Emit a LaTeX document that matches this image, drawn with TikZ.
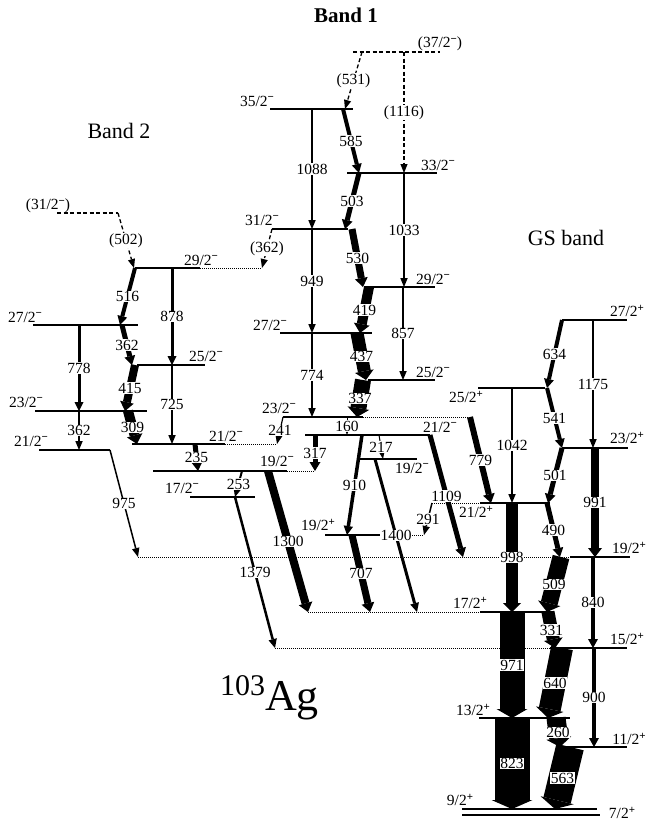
\documentclass[tikz,border=0pt]{standalone}
\usepackage{fontspec}
\setmainfont{Liberation Serif}
\usetikzlibrary{arrows.meta}
\newcommand{\pneg}{\raisebox{0.75ex}{\fontsize{11}{11}\selectfont\bfseries −}}
\newcommand{\ppos}{\raisebox{0.75ex}{\fontsize{11}{11}\selectfont\bfseries +}}
\newcommand{\lblfont}{\fontsize{15.5}{15.5}\selectfont}

\begin{document}
\begin{tikzpicture}[x=1pt, y=-1pt,
    lvl/.style={line width=1.2pt},
    lvlx/.style={densely dotted, line width=1pt},
    lvld/.style={dash pattern=on 4pt off 2.5pt, line width=1.1pt},
    gam/.style={line width=#1, -{Triangle[length=9pt 0 0, width=6pt 1 0, line width=0pt 0 0]}},
    gam/.default=1.5pt,
    gamd/.style={gam=1.3pt, dash pattern=on 4pt off 2.5pt},
    elab/.style={fill=white, inner sep=0.5pt, font=\lblfont},
    spin/.style={inner sep=0pt, font=\lblfont},
    title/.style={font=\fontsize{22}{22}\selectfont},
  ]
  \useasboundingbox (0,0) rectangle (647,823);

  % --- titles ---
  \node[title, font={\fontsize{21}{21}\selectfont\bfseries}] (t1) at (346,15) {Band 1};
  \node[title] (t2) at (119,131) {Band 2};
  \node[title] (tgs) at (566,238) {GS band};
  \node[anchor=base west, inner sep=0pt] (nuc) at (220,710)
    {\raisebox{15pt}{\fontsize{30}{30}\selectfont 103}\fontsize{44}{44}\selectfont Ag};

  % --- Band 1 levels ---
  \draw[lvld] (353,52) coordinate (L37) -- (440,52);
  \draw[lvl] (270,109) coordinate (L35) -- (353,109);
  \draw[lvl] (347,173) coordinate (L33) -- (437,173);
  \draw[lvl] (272,229) coordinate (L31) -- (348,229);
  \draw[lvl] (365,287) coordinate (L29) -- (435,287);
  \draw[lvl] (280,333) coordinate (L27) -- (372,333);
  \draw[lvl] (368,380) coordinate (L25) -- (435,380);
  \draw[lvl] (283,417) coordinate (L23) -- (363,417);
  \draw[lvlx] (363,417) -- (470,417);
  \draw[lvl] (305,435) coordinate (L21) -- (430,435);
  \draw[lvl] (360,459) coordinate (L19) -- (417,459);
  \draw[lvl] (325,535) coordinate (L19p) -- (380,535);
  \draw[lvlx] (380,535) -- (424,535);

  \node[spin] (s37) at (440,44) {(37/2\pneg)};
  \node[spin] (s35) at (257,101) {35/2\pneg};
  \node[spin] (s33) at (438,165) {33/2\pneg};
  \node[spin] (s31) at (262,220) {31/2\pneg};
  \node[spin] (s29) at (433,279) {29/2\pneg};
  \node[spin] (s27) at (270,325) {27/2\pneg};
  \node[spin] (s25) at (433,372) {25/2\pneg};
  \node[spin] (s23) at (279,408) {23/2\pneg};
  \node[spin] (s21) at (440,427) {21/2\pneg};
  \node[spin] (s19) at (412,468) {19/2\pneg};
  \node[spin] (s19p) at (318,525) {19/2\ppos};

  % --- Band 2 levels ---
  \draw[lvld] (57,213) coordinate (M31) -- (118,213);
  \draw[lvl] (135,268) coordinate (M29) -- (200,268);
  \draw[lvlx] (200,268) -- (262,268);
  \draw[lvl] (33,325) coordinate (M27) -- (138,325);
  \draw[lvl] (137,365) coordinate (M25) -- (205,365);
  \draw[lvl] (35,411) coordinate (M23) -- (147,411);
  \draw[lvl] (39,450) coordinate (M21b) -- (110,450);
  \draw[lvl] (132,444) coordinate (M21) -- (225,444);
  \draw[lvlx] (225,444) -- (277,444);
  \draw[lvl] (153,471) coordinate (M19) -- (287,471);
  \draw[lvlx] (287,471) -- (315,471);
  \draw[lvl] (190,497) coordinate (M17) -- (255,497);

  \node[spin] (r31) at (48,206) {(31/2\pneg)};
  \node[spin] (r29) at (201,260) {29/2\pneg};
  \node[spin] (r27) at (25,317) {27/2\pneg};
  \node[spin] (r25) at (206,356) {25/2\pneg};
  \node[spin] (r23) at (26,402) {23/2\pneg};
  \node[spin] (r21b) at (31,441) {21/2\pneg};
  \node[spin] (r21) at (226,436) {21/2\pneg};
  \node[spin] (r19) at (277,461) {19/2\pneg};
  \node[spin] (r17) at (182,488) {17/2\pneg};

  % --- GS band levels ---
  \draw[lvl] (562,320) coordinate (G27) -- (627,320);
  \draw[lvl] (478,388) coordinate (G25) -- (545,388);
  \draw[lvl] (562,448) coordinate (G23) -- (628,448);
  \draw[lvlx] (432,503) -- (480,503);
  \draw[lvl] (480,503) coordinate (G21) -- (550,503);
  \draw[lvlx] (138,557) -- (570,557);
  \draw[lvl] (570,557) coordinate (G19) -- (630,557);
  \draw[lvlx] (308,612) -- (480,612);
  \draw[lvl] (480,612) coordinate (G17) -- (552,612);
  \draw[lvlx] (275,648) -- (550,648);
  \draw[lvl] (550,648) coordinate (G15) -- (627,648);
  \draw[lvl] (479,718) coordinate (G13) -- (570,718);
  \draw[lvl] (565,747) coordinate (G11) -- (627,747);
  \draw[lvl] (462,809) coordinate (G9) -- (597,809);
  \draw[lvl] (462,815) coordinate (G7) -- (600,815);

  \node[spin] (q27) at (627,311) {27/2\ppos};
  \node[spin] (q25) at (466,397) {25/2\ppos};
  \node[spin] (q23) at (627,438) {23/2\ppos};
  \node[spin] (q21) at (476,512) {21/2\ppos};
  \node[spin] (q19) at (629,548) {19/2\ppos};
  \node[spin] (q17) at (470,603) {17/2\ppos};
  \node[spin] (q15) at (627,639) {15/2\ppos};
  \node[spin] (q13) at (473,710) {13/2\ppos};
  \node[spin] (q11) at (629,739) {11/2\ppos};
  \node[spin] (q9) at (460,800) {9/2\ppos};
  \node[spin] (q7) at (622,813) {7/2\ppos};

  % --- Band 1 transitions ---
  \draw[gamd] (362,0 |- L37) -- node[elab] (e531) {(531)} (345,0 |- L35);
  \draw[gamd] (404,0 |- L37) -- node[elab] (e1116) {(1116)} (404,0 |- L33);
  \draw[gam] (312,0 |- L35) -- node[elab] (e1088) {1088} (312,0 |- L31);
  \draw[gam=4pt] (343,0 |- L35) -- node[elab] (e585) {585} (359,0 |- L33);
  \draw[gam=5pt] (359,0 |- L33) -- node[elab] (e503) {503} (345,0 |- L31);
  \draw[gam] (404,0 |- L33) -- node[elab] (e1033) {1033} (404,0 |- L29);
  \draw[gam] (312,0 |- L31) -- node[elab] (e949) {949} (312,0 |- L27);
  \draw[gam=7pt] (352,0 |- L31) -- node[elab] (e530) {530} (363,0 |- L29);
  \draw[gam] (403,0 |- L29) -- node[elab] (e857) {857} (403,0 |- L25);
  \draw[gam=10pt] (369,0 |- L29) -- node[elab] (e419) {419} (360,0 |- L27);
  \draw[gam] (312,0 |- L27) -- node[elab] (e774) {774} (312,0 |- L23);
  \draw[gam=13pt] (357,0 |- L27) -- node[elab] (e437) {437} (366,0 |- L25);
  \draw[gam=16pt] (363,0 |- L25) -- node[elab] (e337) {337} (357,0 |- L23);
  \draw[gam=1pt] (347,0 |- L23) -- node[elab] (e160) {160} (347,0 |- L21);
  \draw[gam=1.2pt] (283,0 |- L23) -- node[elab] (e241) {241} (277,0 |- M21);
  \draw[gam=5pt] (315,0 |- L21) -- node[elab] (e317) {317} (315,0 |- M19);
  \draw[gam=1pt] (379,0 |- L21) -- node[elab] (e217) {217} (383,0 |- L19);
  \draw[gam=3.5pt] (362,0 |- L21) -- node[elab] (e910) {910} (347,0 |- L19p);
  \draw[gam=3pt] (375,0 |- L19) -- node[elab] (e1400) {1400} (417,0 |- G17);
  \draw[gam=5pt] (430,0 |- L21) -- node[elab] (e1109) {1109} (463,0 |- G19);
  \draw[gam=6pt] (470,0 |- L23) -- node[elab] (e779) {779} (491,0 |- G21);
  \draw[gam] (432,0 |- G21) -- node[elab] (e291) {291} (424,0 |- L19p);
  \draw[gam=7pt] (352,0 |- L19p) -- node[elab] (e707) {707} (370,0 |- G17);
  \draw[gam=8pt] (268,0 |- M19) -- node[elab] (e1300) {1300} (308,0 |- G17);

  % --- Band 2 transitions ---
  \draw[gamd] (118,0 |- M31) -- node[elab] (e502) {(502)} (134,0 |- M29);
  \draw[gamd] (272,0 |- L31) -- node[elab] (e362c) {(362)} (262,0 |- M29);
  \draw[gam=4pt] (135,0 |- M29) -- node[elab] (e516) {516} (120,0 |- M27);
  \draw[gam=3pt] (172,0 |- M29) -- node[elab] (e878) {878} (172,0 |- M25);
  \draw[gam=5pt] (122,0 |- M27) -- node[elab] (e362a) {362} (132,0 |- M25);
  \draw[gam=3pt] (79,0 |- M27) -- node[elab] (e778) {778} (79,0 |- M23);
  \draw[gam=8pt] (135,0 |- M25) -- node[elab] (e415) {415} (125,0 |- M23);
  \draw[gam] (172,0 |- M25) -- node[elab] (e725) {725} (172,0 |- M21);
  \draw[gam=10pt] (128,0 |- M23) -- node[elab] (e309) {309} (137,0 |- M21);
  \draw[gam] (79,0 |- M23) -- node[elab] (e362b) {362} (79,0 |- M21b);
  \draw[gam=5pt] (195,0 |- M21) -- node[elab] (e235) {235} (198,0 |- M19);
  \draw[gam=2pt] (242,0 |- M19) -- node[elab] (e253) {253} (235,0 |- M17);
  \draw[gam] (110,0 |- M21b) -- node[elab] (e975) {975} (138,0 |- G19);
  \draw[gam=2.5pt] (235,0 |- M17) -- node[elab] (e1379) {1379} (275,0 |- G15);

  % --- GS band transitions ---
  \draw[gam=4pt] (562,0 |- G27) -- node[elab] (e634) {634} (547,0 |- G25);
  \draw[gam] (593,0 |- G27) -- node[elab] (e1175) {1175} (593,0 |- G23);
  \draw[gam] (512,0 |- G25) -- node[elab] (e1042) {1042} (512,0 |- G21);
  \draw[gam=4pt] (547,0 |- G25) -- node[elab] (e541) {541} (562,0 |- G23);
  \draw[gam=5pt] (562,0 |- G23) -- node[elab] (e501) {501} (548,0 |- G21);
  \draw[gam=8pt] (595,0 |- G23) -- node[elab] (e991) {991} (595,0 |- G19);
  \draw[gam=5pt] (547,0 |- G21) -- node[elab] (e490) {490} (560,0 |- G19);
  \draw[gam=12pt] (512,0 |- G21) -- node[elab] (e998) {998} (512,0 |- G17);
  \draw[gam=17pt] (561,0 |- G19) -- node[elab] (e509) {509} (547,0 |- G17);
  \draw[gam=4pt] (593,0 |- G19) -- node[elab] (e840) {840} (593,0 |- G15);
  \draw[gam=25pt] (512,0 |- G17) -- node[elab] (e971) {971} (512,0 |- G13);
  \draw[gam=13pt] (548,0 |- G17) -- node[elab] (e331) {331} (555,0 |- G15);
  \draw[gam=22pt] (562,0 |- G15) -- node[elab] (e640) {640} (548,0 |- G13);
  \draw[gam=4pt] (594,0 |- G15) -- node[elab] (e900) {900} (594,0 |- G11);
  \draw[gam=35pt] (512,0 |- G13) -- node[elab] (e823) {823} (512,0 |- G9);
  \draw[gam=19pt] (556,0 |- G13) -- node[elab] (e260) {260} (560,0 |- G11);
  \draw[gam=28pt] (570,0 |- G11) -- node[elab] (e563) {563} (555,0 |- G9);
\end{tikzpicture}
\end{document}
